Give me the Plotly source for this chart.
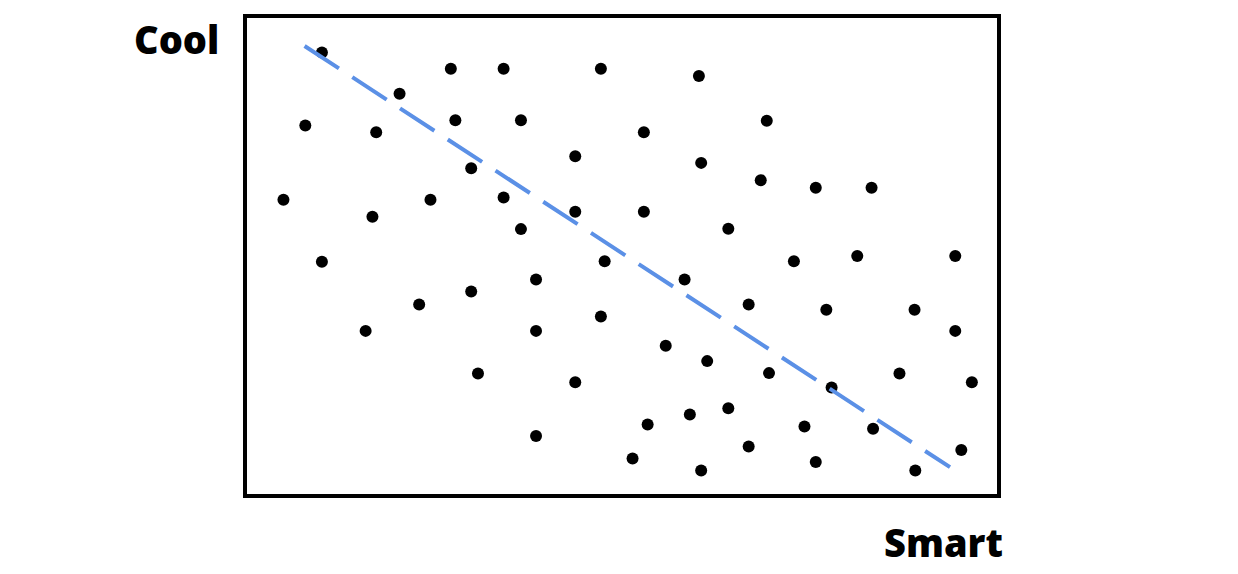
import plotly.graph_objects as go

# Scatter data (Smart on x, Cool on y), in 0-100 units
smart = [10.2, 27.3, 34.3, 47.2, 60.2, 20.5, 8.0, 17.4, 27.9, 36.6,
         52.9, 69.2, 43.8, 30.0, 60.5, 68.4, 75.7, 83.1, 5.1, 16.9,
         24.6, 34.3, 43.8, 52.9, 36.6, 64.1, 10.2, 47.7, 72.8, 81.2,
         94.2, 38.6, 58.3, 30.0, 23.1, 66.8, 77.1, 88.8, 16.0, 38.6,
         47.2, 94.2, 55.8, 61.3, 30.9, 43.8, 69.5, 77.8, 86.8, 96.4,
         59.0, 64.1, 53.4, 74.2, 83.3, 38.6, 66.8, 95.0, 51.4, 60.5,
         75.7, 88.9]
cool = [92.4, 89.0, 89.0, 89.0, 87.5, 83.8, 77.2, 75.8, 78.3, 78.3,
        75.8, 78.2, 70.8, 68.3, 69.4, 65.8, 64.2, 64.2, 61.7, 58.2,
        61.7, 62.2, 59.2, 59.2, 55.6, 55.7, 48.8, 48.9, 48.9, 50.0,
        50.0, 45.1, 45.1, 42.6, 39.9, 39.9, 38.8, 38.8, 34.4, 34.4,
        37.4, 34.4, 31.3, 28.1, 25.5, 23.7, 25.6, 22.6, 25.5, 23.7,
        17.0, 18.3, 14.9, 14.5, 14.0, 12.5, 10.3, 9.6, 7.8, 5.3,
        7.1, 5.3]

# Trend line end points
trend_x = [7.9, 93.5]
trend_y = [93.75, 6.0]

x_label = "Smart"
y_label = "Cool"

fig = go.Figure()
fig.add_trace(go.Scatter(
    x=smart, y=cool, mode="markers",
    marker=dict(color="black", size=12, line=dict(width=0)),
    hoverinfo="skip", showlegend=False,
))
fig.add_trace(go.Scatter(
    x=trend_x, y=trend_y, mode="lines",
    line=dict(color="#5b90e6", width=4, dash="41px,16px"),
    hoverinfo="skip", showlegend=False,
))

fig.add_shape(type="rect", xref="paper", yref="paper", x0=0, x1=1, y0=0, y1=1,
              line=dict(color="black", width=4), fillcolor="rgba(0,0,0,0)", layer="above")

label_font = dict(family="Noto Sans", size=38, color="black", weight=900)
fig.add_annotation(text=y_label, xref="paper", yref="paper",
                   x=-0.032, y=0.952, xanchor="right", yanchor="middle",
                   showarrow=False, font=label_font)
fig.add_annotation(text=x_label, xref="paper", yref="paper",
                   x=1.0085, y=-0.0958, xanchor="right", yanchor="middle",
                   showarrow=False, font=label_font)

fig.update_xaxes(range=[0, 100], visible=False, showgrid=False, zeroline=False)
fig.update_yaxes(range=[0, 100], visible=False, showgrid=False, zeroline=False)
fig.update_layout(
    width=1230, height=566,
    margin=dict(l=237, r=239, t=8, b=78),
    plot_bgcolor="white", paper_bgcolor="white",
)
fig.write_html("out.html")
